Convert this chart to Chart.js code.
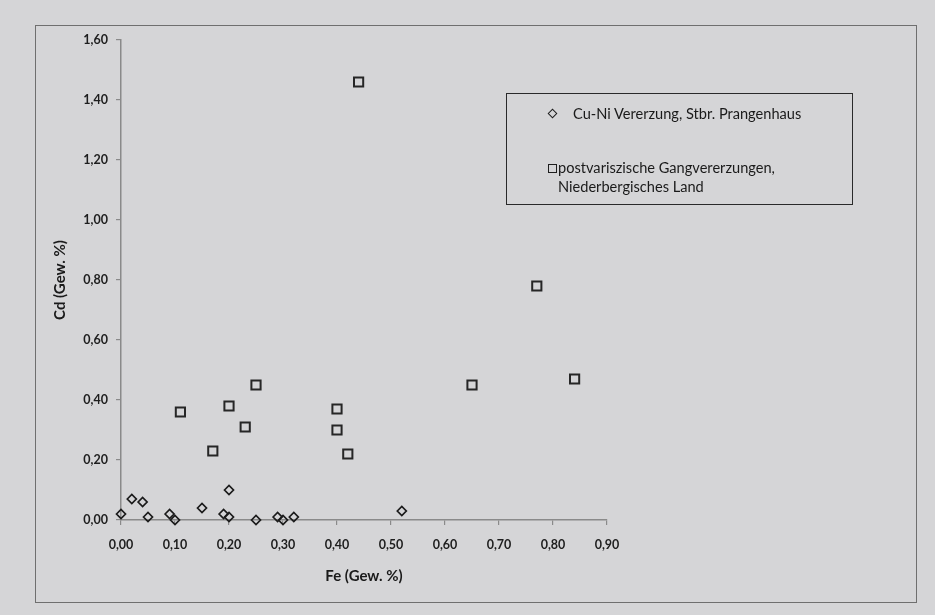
<!DOCTYPE html>
<html>
<head>
<meta charset="utf-8">
<script src="https://cdn.jsdelivr.net/npm/chart.js@4"></script>
<style>
    html, body { margin: 0; padding: 0; background: #d5d5d7; }
    #wrap { position: relative; width: 935px; height: 615px; overflow: hidden; }
    #frame { position: absolute; left: 35px; top: 25px; width: 880px; height: 576px; border: 1.5px solid #6f6f6f; }
    canvas { position: absolute; left: 0; top: 0; }
    #legend { position: absolute; left: 506px; top: 93px; width: 345px; height: 110px; border: 1.5px solid #2a2a2a;
        font-family: Lato, sans-serif; font-size: 14.6px; color: #1a1a1a; }
    .item { position: absolute; line-height: 19px; }
    .marker { position: absolute; box-sizing: border-box; border: 1.6px solid #1e1e1e; }
</style>
</head>
<body>
<div id="wrap">
    <div id="frame"></div>
    <canvas id="scatterChart" width="935" height="615"></canvas>
    <div id="legend"></div>
</div>
<script>
// Cu-Ni Vererzung, Stbr. Prangenhaus
const cuNiLabel = 'Cu-Ni Vererzung, Stbr. Prangenhaus';
const cuNiFe = [0.00, 0.02, 0.04, 0.05, 0.09, 0.10, 0.15, 0.19, 0.20, 0.20, 0.25, 0.29, 0.30, 0.32, 0.52];
const cuNiCd = [0.02, 0.07, 0.06, 0.01, 0.02, 0.00, 0.04, 0.02, 0.01, 0.10, 0.00, 0.01, 0.00, 0.01, 0.03];

// postvariszische Gangvererzungen
const gangLabel = ['postvariszische Gangvererzungen,', 'Niederbergisches Land'];
const gangFe = [0.11, 0.17, 0.20, 0.23, 0.25, 0.40, 0.40, 0.42, 0.44, 0.65, 0.77, 0.84];
const gangCd = [0.36, 0.23, 0.38, 0.31, 0.45, 0.37, 0.30, 0.22, 1.46, 0.45, 0.78, 0.47];

const xTitle = 'Fe (Gew. %)';
const yTitle = 'Cd (Gew. %)';

const FONT = 'Lato, sans-serif';
const AXIS_COLOR = '#8a8a8a';

function toPoints(xs, ys) {
    return xs.map((x, i) => ({ x: x, y: ys[i] }));
}

function formatTick(value) {
    return Number(value).toFixed(2).replace('.', ',');
}

const chart = new Chart(document.getElementById('scatterChart'), {
    type: 'scatter',
    data: {
        datasets: [
            {
                label: cuNiLabel,
                data: toPoints(cuNiFe, cuNiCd),
                pointStyle: 'rectRot',
                pointRadius: 4.5,
                borderWidth: 1.7,
                borderColor: '#1a1a1a',
                backgroundColor: 'rgba(0,0,0,0)',
                clip: false
            },
            {
                label: gangLabel.join(' '),
                data: toPoints(gangFe, gangCd),
                pointStyle: 'rect',
                pointRadius: 6.5,
                borderWidth: 2,
                borderColor: '#262626',
                backgroundColor: 'rgba(0,0,0,0)',
                clip: false
            }
        ]
    },
    options: {
        responsive: false,
        animation: false,
        layout: { padding: { left: 0, top: 40, right: 328, bottom: 0 } },
        plugins: {
            legend: { display: false },
            tooltip: { enabled: false }
        },
        scales: {
            x: {
                type: 'linear',
                min: 0,
                max: 0.9,
                ticks: {
                    stepSize: 0.1,
                    callback: formatTick,
                    color: '#1e1e1e',
                    padding: 12,
                    font: { family: FONT, size: 12.5, weight: 'bold' }
                },
                grid: { drawOnChartArea: false, tickLength: 5, color: AXIS_COLOR, lineWidth: 1.2 },
                border: { color: AXIS_COLOR, width: 1.5 },
                title: {
                    display: true,
                    text: xTitle,
                    color: '#1a1a1a',
                    font: { family: FONT, size: 15, weight: 'bold' },
                    padding: { top: 0, bottom: 30 }
                },
                afterFit(scale) { scale.height = 95; }
            },
            y: {
                type: 'linear',
                min: 0,
                max: 1.6,
                ticks: {
                    stepSize: 0.2,
                    callback: formatTick,
                    color: '#1e1e1e',
                    padding: 8,
                    font: { family: FONT, size: 12.5, weight: 'bold' }
                },
                grid: { drawOnChartArea: false, tickLength: 5, color: AXIS_COLOR, lineWidth: 1.2 },
                border: { color: AXIS_COLOR, width: 1.5 },
                title: {
                    display: true,
                    text: yTitle,
                    color: '#1a1a1a',
                    font: { family: FONT, size: 15, weight: 'bold' },
                    padding: { top: 51, bottom: 0 }
                },
                afterFit(scale) { scale.width = 121; }
            }
        }
    }
});

// boxed legend, built from the chart's datasets
function buildLegend(chart) {
    const box = document.getElementById('legend');
    const ds = chart.data.datasets;

    const m1 = document.createElement('span');
    m1.className = 'marker';
    m1.style.cssText = 'left:42px;top:16px;width:7px;height:7px;transform:rotate(45deg);';
    box.appendChild(m1);
    const t1 = document.createElement('div');
    t1.className = 'item';
    t1.style.cssText = 'left:66px;top:10px;';
    t1.textContent = ds[0].label;
    box.appendChild(t1);

    const m2 = document.createElement('span');
    m2.className = 'marker';
    m2.style.cssText = 'left:41px;top:70px;width:9px;height:9px;';
    box.appendChild(m2);
    const t2 = document.createElement('div');
    t2.className = 'item';
    t2.style.cssText = 'left:51px;top:64px;';
    t2.innerHTML = gangLabel.join('<br>');
    box.appendChild(t2);
}

buildLegend(chart);
</script>
</body>
</html>
